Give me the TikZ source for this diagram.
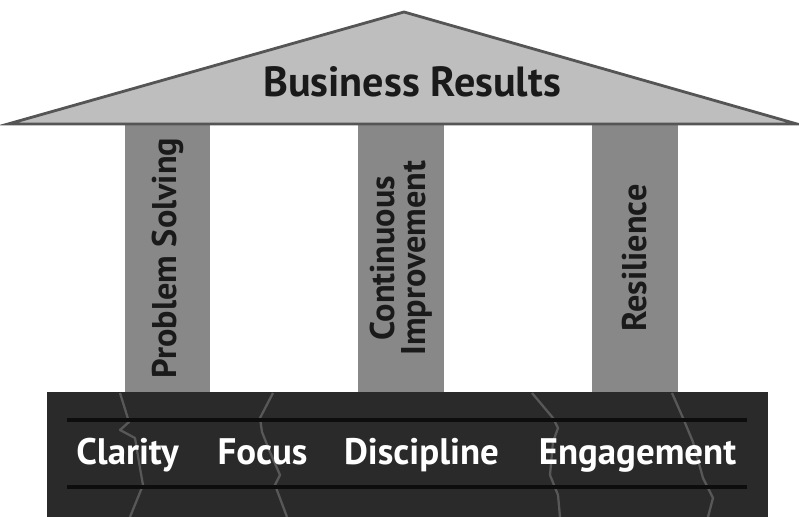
\documentclass[tikz,border=0pt]{standalone}
\usepackage{fontspec}
\setmainfont{PT Sans}

\definecolor{roofgray}{RGB}{190,190,190}
\definecolor{roofedge}{RGB}{85,85,85}
\definecolor{pillargray}{RGB}{136,136,136}
\definecolor{basegray}{RGB}{42,42,42}
\definecolor{crackgray}{RGB}{88,88,88}
\definecolor{inkgray}{RGB}{26,26,26}

\tikzset{
  roof/.style={fill=roofgray, draw=roofedge, line width=1.6pt, line join=miter},
  pillar/.style={fill=pillargray, rotate=90, inner sep=0pt,
    minimum width=5.36cm, minimum height=1.72cm, align=center,
    text=inkgray, font=\bfseries\fontsize{19.5}{17.5}\selectfont},
  footing/.style={fill=basegray, inner sep=0pt,
    minimum width=14.42cm, minimum height=2.5cm},
  crack/.style={crackgray, line width=1.3pt, line join=round},
  ledge/.style={black!95, line width=2.3pt},
  value/.style={text=white, anchor=base, inner sep=0pt,
    font=\bfseries\fontsize{21}{21}\selectfont}
}

\begin{document}
\begin{tikzpicture}[x=0.02cm, y=-0.02cm]
  \useasboundingbox (0,0) rectangle (799,517);

  % pillars
  \node[pillar] (solving)    at (167.5,258) {Problem Solving};
  \node[pillar] (improve)    at (401,258)   {Continuous\\Improvement};
  \node[pillar] (resilience) at (635,258)   {Resilience};

  % roof
  \coordinate (eaveL) at (8,124);
  \coordinate (ridge) at (404,12);
  \coordinate (eaveR) at (797,124);
  \draw[roof] (eaveL) -- (ridge) -- (eaveR) -- cycle;
  \node[text=inkgray, font=\bfseries\fontsize{24}{24}\selectfont] (results) at (412,82) {Business Results};

  % foundation
  \node[footing] (base) at (407.5,454.5) {};

  % cracks in the foundation
  \draw[crack] (120,393) -- (129,422) -- (120,430) -- (135,438) -- (140,468) -- (143,485) -- (130,517);
  \draw[crack] (273,393) -- (260,418) -- (262,432) -- (270,452) -- (280,475) -- (275,485) -- (287,517);
  \draw[crack] (532,393) -- (553,418) -- (558,428) -- (553,442) -- (550,475) -- (558,495) -- (560,517);
  \draw[crack] (672,393) -- (683,418) -- (693,442) -- (703,478) -- (713,498) -- (708,517);

  % ledges
  \draw[ledge] (67,420) -- (747,420);
  \draw[ledge] (67,487) -- (747,487);

  \node[value] (clarity)    at (127.5,464) {Clarity};
  \node[value] (focus)      at (262.5,464) {Focus};
  \node[value] (discipline) at (421.5,464) {Discipline};
  \node[value] (engagement) at (637.5,464) {Engagement};
\end{tikzpicture}
\end{document}
